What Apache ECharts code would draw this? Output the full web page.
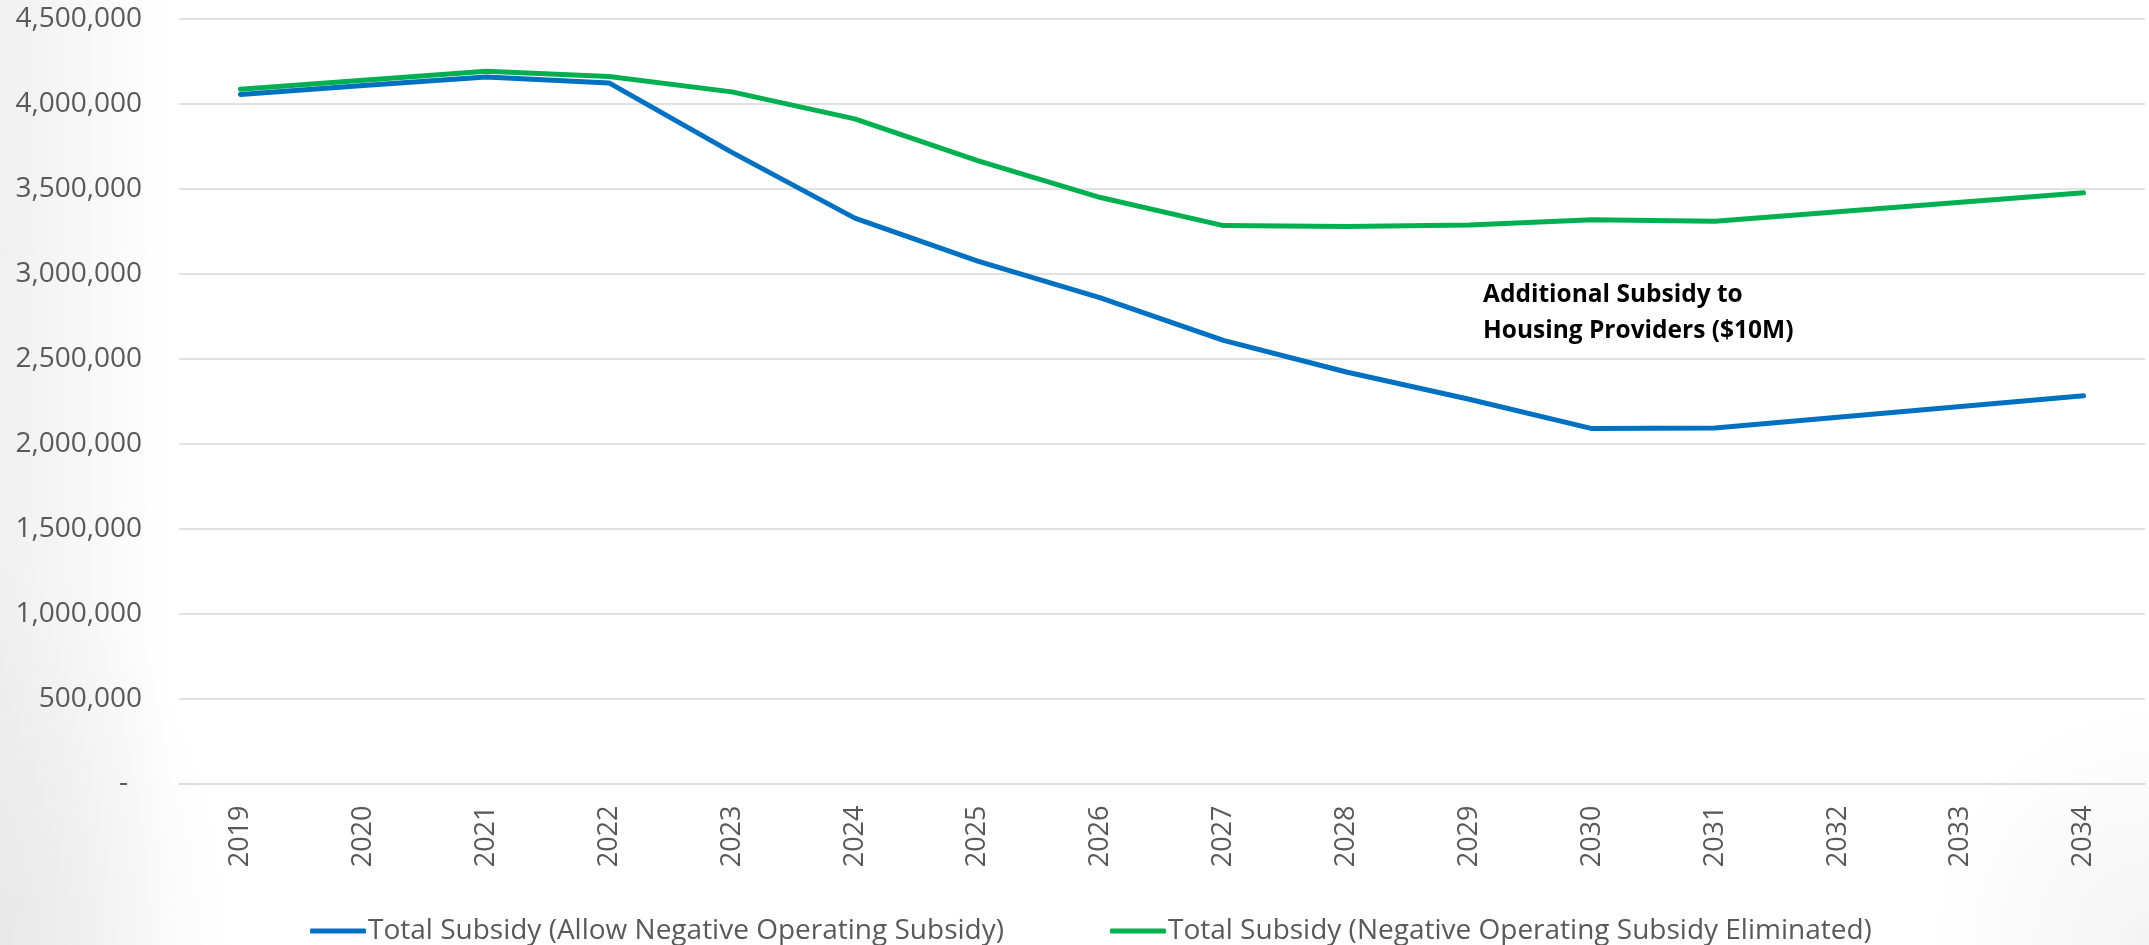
<!DOCTYPE html>
<html>
<head>
<meta charset="utf-8">
<script src="https://cdn.jsdelivr.net/npm/echarts@6/dist/echarts.min.js"></script>
<style>
  html, body { margin: 0; padding: 0; width: 2149px; height: 945px; overflow: hidden; }
  body {
    background:
      radial-gradient(ellipse 230px 380px at 0% 100%, rgba(225,225,225,0.55), rgba(255,255,255,0) 100%),
      radial-gradient(ellipse 220px 240px at 100% 100%, rgba(230,230,230,0.45), rgba(255,255,255,0) 100%),
      linear-gradient(to right, #f0f0f0 0px, #ffffff 170px);
  }
  #chart { width: 2149px; height: 945px; }
</style>
</head>
<body>
<div id="chart"></div>
<script>
// Years on the horizontal axis
const years = ['2019', '2020', '2021', '2022', '2023', '2024', '2025', '2026',
               '2027', '2028', '2029', '2030', '2031', '2032', '2033', '2034'];

// Total subsidy when negative operating subsidy is allowed
const allowNegative = [4056000, 4108000, 4159000, 4124000, 3715000, 3328000, 3075000, 2858000,
                       2608000, 2422000, 2262000, 2089000, 2093000, 2156000, 2219000, 2282000];

// Total subsidy when negative operating subsidy is eliminated
const negativeEliminated = [4086000, 4139000, 4192000, 4161000, 4071000, 3912000, 3666000, 3449000,
                            3284000, 3279000, 3288000, 3318000, 3310000, 3366000, 3421000, 3477000];

const seriesNames = [
  'Total Subsidy (Allow Negative Operating Subsidy)',
  'Total Subsidy (Negative Operating Subsidy Eliminated)'
];

const noteLines = ['Additional Subsidy to', 'Housing Providers ($10M)'];

const axisGrey = '#595959';
const gridGrey = '#D9D9D9';

const chart = echarts.init(document.getElementById('chart'), null, { renderer: 'canvas' });

function fmtThousands(v) {
  if (v === 0) return '{dash|-}';
  return v.toLocaleString('en-US');
}

chart.setOption({
  backgroundColor: 'transparent',
  animation: false,
  textStyle: { fontFamily: 'Open Sans' },
  grid: { left: 179, right: 4, top: 19, bottom: 161.5, containLabel: false },
  legend: {
    left: 305,
    top: 912,
    itemWidth: 56,
    itemHeight: 5,
    itemGap: 106,
    icon: 'roundRect',
    textStyle: { color: axisGrey, fontSize: 28, fontFamily: 'Open Sans', padding: [0, 0, 0, -3] },
    data: seriesNames
  },
  xAxis: {
    type: 'category',
    data: years,
    boundaryGap: true,
    axisLine: { show: true, lineStyle: { color: gridGrey, width: 1.5 } },
    axisTick: { show: false },
    axisLabel: { rotate: 90, margin: 22, color: axisGrey, fontSize: 27, fontFamily: 'Open Sans' },
    splitLine: { show: false }
  },
  yAxis: {
    type: 'value',
    min: 0,
    max: 4500000,
    interval: 500000,
    axisLine: { show: false },
    axisTick: { show: false },
    axisLabel: {
      margin: 37,
      color: axisGrey,
      fontSize: 28,
      fontFamily: 'Open Sans',
      formatter: fmtThousands,
      rich: { dash: { color: axisGrey, fontSize: 28, fontFamily: 'Open Sans', padding: [0, 14, 0, 0] } }
    },
    splitLine: { show: true, lineStyle: { color: gridGrey, width: 1.5 } }
  },
  series: [
    {
      name: seriesNames[0],
      type: 'line',
      data: allowNegative,
      showSymbol: false,
      symbol: 'none',
      lineStyle: { color: '#0070C0', width: 5, cap: 'round', join: 'round' },
      itemStyle: { color: '#0070C0' },
      z: 3
    },
    {
      name: seriesNames[1],
      type: 'line',
      data: negativeEliminated,
      showSymbol: false,
      symbol: 'none',
      lineStyle: { color: '#00B050', width: 5, cap: 'round', join: 'round' },
      itemStyle: { color: '#00B050' },
      z: 2
    }
  ],
  graphic: [
    {
      type: 'text',
      left: 1483,
      top: 277,
      style: {
        text: noteLines.join('\n'),
        fill: '#000000',
        font: 'bold 24.5px "Open Sans"',
        lineHeight: 36
      }
    }
  ]
});
</script>
</body>
</html>
